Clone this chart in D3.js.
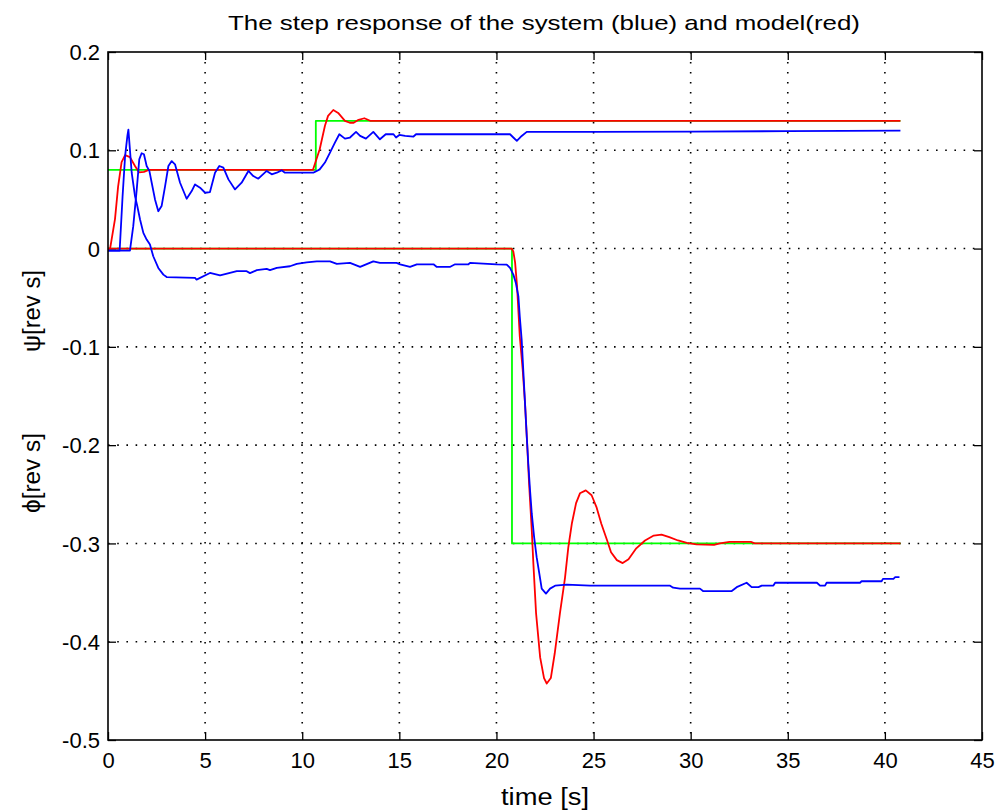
<!DOCTYPE html>
<html>
<head>
<meta charset="utf-8">
<script src="https://cdn.jsdelivr.net/npm/d3@7"></script>
<style>
  html, body { margin: 0; padding: 0; background: #ffffff; }
  svg { display: block; }
  text { font-family: "Liberation Sans", Arial, sans-serif; fill: #000; }
</style>
</head>
<body>
<svg id="chart" width="998" height="812"></svg>
<script>
// ---------------- DATA ----------------
const titleText = "The step response of the system (blue) and model(red)";
const xLabelText = "time [s]";
const yLabelPsi = "\u03C8[rev s]";
const yLabelPhi = "\u03D5[rev s]";

const xTicks = [0, 5, 10, 15, 20, 25, 30, 35, 40, 45];
const xTickLabels = ["0", "5", "10", "15", "20", "25", "30", "35", "40", "45"];
const yTicks = [-0.5, -0.4, -0.3, -0.2, -0.1, 0, 0.1, 0.2];
const yTickLabels = ["-0.5", "-0.4", "-0.3", "-0.2", "-0.1", "0", "0.1", "0.2"];

// reference (green) steps  [time, value]
const refPsi = [[0, 0.08], [10.7, 0.08], [10.7, 0.13], [40.8, 0.13]];
const refPhi = [[0, 0], [20.8, 0], [20.8, -0.3], [40.8, -0.3]];

// model (red)
const modelPsi = [[0, -0.001], [0.1, -0.001], [0.36, 0.03], [0.52, 0.063], [0.7, 0.088], [0.88, 0.095],
  [1.13, 0.093], [1.39, 0.084], [1.6, 0.0775], [1.85, 0.078], [2.1, 0.08], [10.55, 0.08],
  [10.9, 0.101], [11.17, 0.125], [11.33, 0.135], [11.6, 0.141], [11.85, 0.138], [12.2, 0.13],
  [12.45, 0.128], [12.65, 0.128], [12.9, 0.131], [13.2, 0.1326], [13.5, 0.13], [40.8, 0.13]];

const modelPhi = [[0, 0], [20.78, 0], [20.87, -0.003], [20.96, -0.014], [21.06, -0.038], [21.2, -0.089],
  [21.35, -0.123], [21.47, -0.157], [21.58, -0.198], [21.68, -0.239], [21.82, -0.287], [21.9, -0.32],
  [22.04, -0.371], [22.25, -0.416], [22.45, -0.437], [22.59, -0.4425], [22.8, -0.437], [23.0, -0.412],
  [23.27, -0.371], [23.53, -0.335], [23.7, -0.304], [23.88, -0.28], [24.1, -0.259], [24.3, -0.249],
  [24.6, -0.246], [24.9, -0.251], [25.15, -0.263], [25.4, -0.28], [25.7, -0.297], [25.9, -0.309],
  [26.2, -0.317], [26.5, -0.32], [26.8, -0.316], [27.2, -0.305], [27.65, -0.297], [28.1, -0.292],
  [28.5, -0.291], [28.9, -0.2936], [29.35, -0.297], [29.8, -0.2995], [30.3, -0.301], [31.2, -0.3015],
  [31.5, -0.3], [32.0, -0.2985], [33.1, -0.2985], [33.3, -0.3], [40.8, -0.3]];

// system (blue)
const sysPsi = [[0, -0.002], [1.13, -0.002], [1.3, 0.0228], [1.48, 0.0602], [1.61, 0.0908], [1.73, 0.097],
  [1.85, 0.096], [1.99, 0.084], [2.13, 0.079], [2.25, 0.067], [2.42, 0.05], [2.59, 0.038], [2.76, 0.0432],
  [2.94, 0.0636], [3.11, 0.084], [3.28, 0.089], [3.45, 0.0857], [3.71, 0.067], [4.05, 0.0507],
  [4.31, 0.0585], [4.48, 0.0653], [4.74, 0.062], [5.0, 0.0568], [5.25, 0.0575], [5.51, 0.0772],
  [5.73, 0.084], [5.94, 0.0823], [6.2, 0.0704], [6.54, 0.0602], [6.88, 0.067], [7.23, 0.079],
  [7.48, 0.0738], [7.74, 0.0711], [8.17, 0.079], [8.43, 0.0755], [8.69, 0.0772], [8.94, 0.0796],
  [9.11, 0.0772], [10.57, 0.0772], [10.75, 0.079], [10.9, 0.0806], [11.17, 0.0875], [11.43, 0.0977],
  [11.69, 0.108], [11.91, 0.1163], [12.2, 0.1119], [12.46, 0.113], [12.77, 0.1187], [12.98, 0.1147],
  [13.28, 0.1119], [13.66, 0.1187], [14.0, 0.1112], [14.3, 0.1163], [14.7, 0.1163], [14.83, 0.113],
  [15.0, 0.1156], [15.3, 0.1147], [15.73, 0.114], [15.86, 0.1163], [20.7, 0.1163], [20.87, 0.113],
  [21.05, 0.1096], [21.3, 0.1146], [21.56, 0.1187], [25, 0.1187], [30, 0.119], [35, 0.1195], [40.8, 0.12]];

const sysPhi = [[0, -0.002], [0.6, -0.002], [0.75, 0.053], [0.88, 0.094], [1.0, 0.115], [1.05, 0.121],
  [1.22, 0.0772], [1.39, 0.0534], [1.51, 0.043], [1.65, 0.0296], [1.82, 0.016], [1.99, 0.0092],
  [2.16, 0.0041], [2.33, -0.0078], [2.59, -0.0197], [2.85, -0.0265], [3.02, -0.029], [4.48, -0.0299],
  [4.56, -0.0316], [5.25, -0.0248], [5.77, -0.0272], [6.28, -0.0248], [6.63, -0.023], [7.14, -0.023],
  [7.31, -0.025], [7.66, -0.022], [8.17, -0.0207], [8.34, -0.022], [8.69, -0.0197], [9.37, -0.018],
  [9.72, -0.0156], [10.23, -0.014], [10.75, -0.013], [11.43, -0.013], [11.78, -0.0156], [12.46, -0.0146],
  [12.98, -0.0187], [13.66, -0.013], [14.0, -0.0146], [14.86, -0.0146], [15.04, -0.016], [15.55, -0.0187],
  [15.9, -0.016], [16.76, -0.016], [16.93, -0.0187], [17.6, -0.0187], [17.87, -0.016], [18.56, -0.016],
  [18.64, -0.0146], [20.0, -0.016], [20.53, -0.0163], [20.7, -0.0197], [20.87, -0.0265], [21.0, -0.035],
  [21.13, -0.0486], [21.2, -0.069], [21.3, -0.093], [21.38, -0.123], [21.47, -0.157], [21.56, -0.191],
  [21.64, -0.219], [21.73, -0.246], [21.82, -0.27], [21.94, -0.2935], [22.07, -0.314], [22.21, -0.331],
  [22.33, -0.346], [22.55, -0.351], [22.76, -0.346], [23.02, -0.343], [23.62, -0.342], [24.82, -0.343],
  [28.94, -0.343], [29.1, -0.345], [29.45, -0.346], [30.48, -0.346], [30.65, -0.3486], [32.1, -0.3486],
  [32.37, -0.3445], [32.88, -0.340], [33.14, -0.3445], [33.49, -0.3445], [33.66, -0.3429], [34.26, -0.3429],
  [34.35, -0.340], [36.5, -0.340], [36.66, -0.3429], [36.92, -0.3429], [37.0, -0.340], [38.72, -0.340],
  [38.8, -0.3385], [39.83, -0.3385], [39.9, -0.336], [40.44, -0.336], [40.53, -0.3343], [40.75, -0.3343]];

// ---------------- LAYOUT ----------------
const W = 998, H = 812;
const L = 108, R = 982, T = 52, B = 740;

const svg = d3.select("#chart");
svg.append("rect").attr("width", W).attr("height", H).attr("fill", "#ffffff");

const x = d3.scaleLinear().domain([0, 45]).range([L, R]);
const y = d3.scaleLinear().domain([-0.5, 0.2]).range([B, T]);

// grid
const grid = svg.append("g");
xTicks.slice(1, -1).forEach(v => {
  grid.append("line").attr("x1", x(v)).attr("x2", x(v)).attr("y1", T).attr("y2", B)
    .attr("stroke", "#000").attr("stroke-width", 1.6).attr("stroke-dasharray", "1.6,8.4");
});
yTicks.slice(1, -1).forEach(v => {
  grid.append("line").attr("x1", L).attr("x2", R).attr("y1", y(v)).attr("y2", y(v))
    .attr("stroke", "#000").attr("stroke-width", 1.6).attr("stroke-dasharray", "1.6,7.6");
});

// axes (ticks inward)
const fmtX = (d, i) => xTickLabels[i];
const fmtY = (d, i) => yTickLabels[i];
const axB = svg.append("g").attr("transform", `translate(0,${B})`)
  .call(d3.axisBottom(x).tickValues(xTicks).tickFormat(fmtX).tickSize(-8).tickPadding(12));
const axT = svg.append("g").attr("transform", `translate(0,${T})`)
  .call(d3.axisTop(x).tickValues(xTicks).tickFormat("").tickSize(-8));
const axL = svg.append("g").attr("transform", `translate(${L},0)`)
  .call(d3.axisLeft(y).tickValues(yTicks).tickFormat(fmtY).tickSize(-8).tickPadding(8));
const axR = svg.append("g").attr("transform", `translate(${R},0)`)
  .call(d3.axisRight(y).tickValues(yTicks).tickFormat("").tickSize(-8));
[axB, axT, axL, axR].forEach(a => {
  a.select(".domain").remove();
  a.selectAll(".tick line").attr("stroke", "#000").attr("stroke-width", 1.3);
  a.selectAll(".tick text").attr("font-size", 22).attr("font-family", "Liberation Sans, Arial, sans-serif").attr("fill", "#000");
});
axB.selectAll(".tick text").attr("dy", "0.71em");
axL.selectAll(".tick text").attr("dy", "0.35em");

// lines
const line = d3.line().x(d => x(d[0])).y(d => y(d[1]));
const series = [
  { data: refPsi, color: "#00ff00" },
  { data: refPhi, color: "#00ff00" },
  { data: modelPsi, color: "#ff0000" },
  { data: modelPhi, color: "#ff0000" },
  { data: sysPsi, color: "#0000ff" },
  { data: sysPhi, color: "#0000ff" }
];
svg.append("g").selectAll("path").data(series).join("path")
  .attr("d", d => line(d.data))
  .attr("fill", "none")
  .attr("stroke", d => d.color)
  .attr("stroke-width", 1.8)
  .attr("stroke-linejoin", "round");

// box
svg.append("rect").attr("x", L).attr("y", T).attr("width", R - L).attr("height", B - T)
  .attr("fill", "none").attr("stroke", "#000").attr("stroke-width", 1.6);

// title & labels
svg.append("text").attr("x", (L + R) / 2 - 1).attr("y", 30).attr("text-anchor", "middle")
  .attr("font-size", 21).attr("textLength", 632).attr("lengthAdjust", "spacingAndGlyphs").text(titleText);
svg.append("text").attr("x", (L + R) / 2).attr("y", 805).attr("text-anchor", "middle")
  .attr("font-size", 23).attr("textLength", 88).attr("lengthAdjust", "spacingAndGlyphs").text(xLabelText);
svg.append("text").attr("transform", "translate(40,311) rotate(-90)").attr("text-anchor", "middle")
  .attr("font-size", 23).attr("textLength", 82).attr("lengthAdjust", "spacingAndGlyphs").text(yLabelPsi);
svg.append("text").attr("transform", "translate(40,473) rotate(-90)").attr("text-anchor", "middle")
  .attr("font-size", 23).attr("textLength", 80).attr("lengthAdjust", "spacingAndGlyphs").text(yLabelPhi);
</script>
</body>
</html>
